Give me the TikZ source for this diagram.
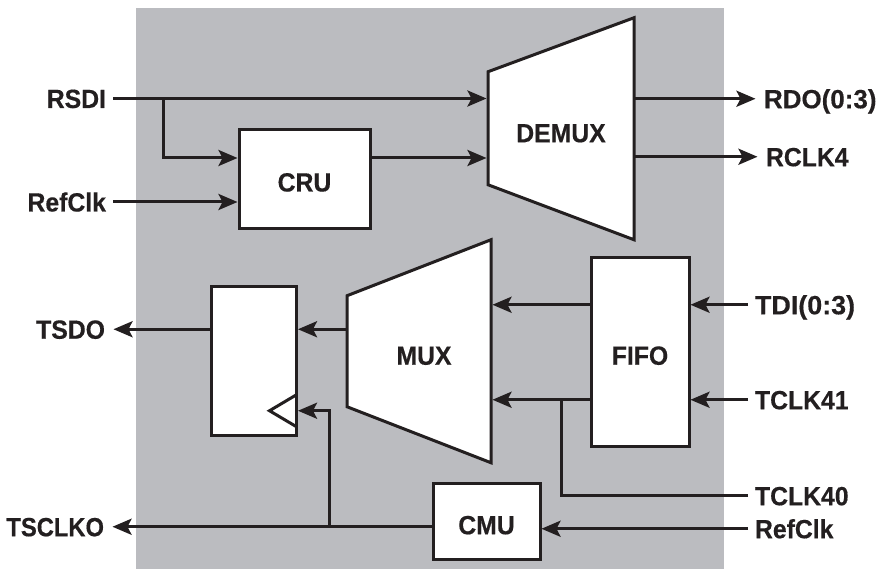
\documentclass[tikz,border=0pt]{standalone}
\usepackage{fontspec}
\setmainfont[FakeStretch=0.94,FakeBold=0.4]{Liberation Sans}
\usetikzlibrary{arrows.meta,calc,positioning,backgrounds}

\definecolor{inkblack}{HTML}{231F20}
\definecolor{panelgray}{HTML}{BBBCC0}

\begin{document}
\begin{tikzpicture}[
    line/.style={draw=inkblack, line width=0.06cm},
    block/.style={
        rectangle,
        line,
        fill=white,
        outer sep=0pt,
        inner sep=0pt,
        align=center,
        text=inkblack,
        font=\fontsize{15}{18}\selectfont\bfseries,
        text height=0.5cm,
        text depth=0cm
    },
    muxblock/.style={block, draw=none, fill=none, text height=0.54cm},
    signal/.style={
        text=inkblack,
        font=\fontsize{15}{18}\selectfont\bfseries,
        inner xsep=0.14cm,
        inner ysep=0pt,
        outer sep=0pt,
        text height=0.38cm,
        text depth=0cm
    },
    arrow/.style={
        line,
        -{Stealth[length=0.38cm, width=0.32cm, inset=0.08cm]},
        shorten >=0.03cm
    }
]

    \useasboundingbox (0,0) rectangle (17.54,-11.38);

    % --- RECEIVE PATH ---
    \node[block, minimum width=2.62cm, minimum height=1.97cm] (cru) at (6.09,-3.58) {CRU};
    \node[muxblock, above right=-2.2cm and 2.36cm of cru, minimum width=2.92cm, minimum height=4.44cm] (demux) {DEMUX};

    % --- TRANSMIT PATH ---
    \node[muxblock, below left=0cm and -0.06cm of demux, minimum width=2.88cm, minimum height=4.46cm] (mux) {\hspace*{0.2cm}MUX};
    \node[block, right=2cm of mux, yshift=-0.02cm, minimum width=1.96cm, minimum height=3.78cm] (fifo) {FIFO};
    \node[block, below left=0.74cm and 1.02cm of fifo, minimum width=2.14cm, minimum height=1.52cm] (cmu) {CMU};
    \node[block, below left=1.16cm and -1.15cm of cru, minimum width=1.71cm, minimum height=2.98cm] (flop) {};

    % --- LEFT SIGNALS ---
    \node[signal, left=2.52cm of cru, yshift=1.61cm] (rsdi) {RSDI};
    \node[signal, left=2.52cm of cru, yshift=-0.46cm] (refclkrx) {RefClk};
    \node[signal, left=1.98cm of flop, yshift=0.63cm] (tsdo) {TSDO};
    \node[signal, left=6.44cm of cmu, yshift=-0.1cm] (tsclko) {\addfontfeature{FakeStretch=0.9}TSCLKO};

    % --- RIGHT SIGNALS ---
    \node[signal, right=2.46cm of demux, yshift=0.6cm] (rdo) {\addfontfeature{FakeStretch=0.985}RDO(0:3)};
    \node[signal, right=2.5cm of demux, yshift=-0.56cm] (rclk) {RCLK4};
    \node[signal, right=1.18cm of fifo, yshift=0.95cm] (tdi) {\addfontfeature{FakeStretch=1.02}TDI(0:3)};
    \node[signal, right=1.18cm of fifo, yshift=-0.95cm] (tclkb) {TCLK41};
    \node[signal, right=4.16cm of cmu, yshift=0.52cm] (tclka) {TCLK40};
    \node[signal, right=4.16cm of cmu, yshift=-0.14cm] (refclktx) {RefClk};

    % --- PANEL AND MUX OUTLINES ---
    \begin{scope}[on background layer]
        \fill[panelgray] (2.72,-0.16) rectangle (14.48,-11.38);
        \draw[line, fill=white, line join=miter] ($(demux.north west)+(0,-1.08)$) -- (demux.north east)
            -- (demux.south east) -- ($(demux.south west)+(0,1.1)$) -- cycle;
        \draw[line, fill=white, line join=miter] ($(mux.north west)+(0,-1.12)$) -- (mux.north east)
            -- (mux.south east) -- ($(mux.south west)+(0,1.12)$) -- cycle;
    \end{scope}

    % --- CLOCK TRIANGLE ---
    \coordinate (flopclk) at ($(flop.east)+(0,-1)$);
    \draw[line] ($(flopclk)+(0,0.32)$) -- ($(flopclk)+(-0.54,0)$) -- ($(flopclk)+(0,-0.32)$);

    % --- CONNECTIONS ---
    % Receive side
    \coordinate (cruin) at ($(cru.west)+(0,0.42)$);
    \coordinate (rsdisplit) at ($(rsdi.east)+(1,0)$);
    \draw[arrow] (rsdi.east) -- (rsdi.east -| demux.west);
    \draw[arrow] (rsdisplit) |- (cruin);
    \draw[arrow] (refclkrx.east) -- (refclkrx.east -| cru.west);
    \draw[arrow] (cruin -| cru.east) -- (cruin -| demux.west);
    \draw[arrow] (rdo.west -| demux.east) -- (rdo.west);
    \draw[arrow] (rclk.west -| demux.east) -- (rclk.west);

    % Transmit side
    \draw[arrow] (tdi.west) -- (tdi.west -| fifo.east);
    \draw[arrow] (tclkb.west) -- (tclkb.west -| fifo.east);
    \draw[arrow] (tdi.west -| fifo.west) -- (tdi.west -| mux.east);
    \draw[arrow] (tclkb.west -| fifo.west) -- (tclkb.west -| mux.east);
    \coordinate (tclksplit) at ($(tclkb.west -| fifo.west)+(-0.6,0)$);
    \draw[line] (tclka.west) -| (tclksplit);
    \draw[arrow] (tsdo.east -| mux.west) -- (tsdo.east -| flop.east);
    \draw[arrow] (tsdo.east -| flop.west) -- (tsdo.east);

    % Clock side
    \coordinate (clksplit) at ($(tsclko.east -| mux.west)+(-0.36,0)$);
    \draw[arrow] (refclktx.west) -- (refclktx.west -| cmu.east);
    \draw[arrow] (tsclko.east -| cmu.west) -- (tsclko.east);
    \draw[arrow] (clksplit) |- (flopclk);

\end{tikzpicture}
\end{document}
